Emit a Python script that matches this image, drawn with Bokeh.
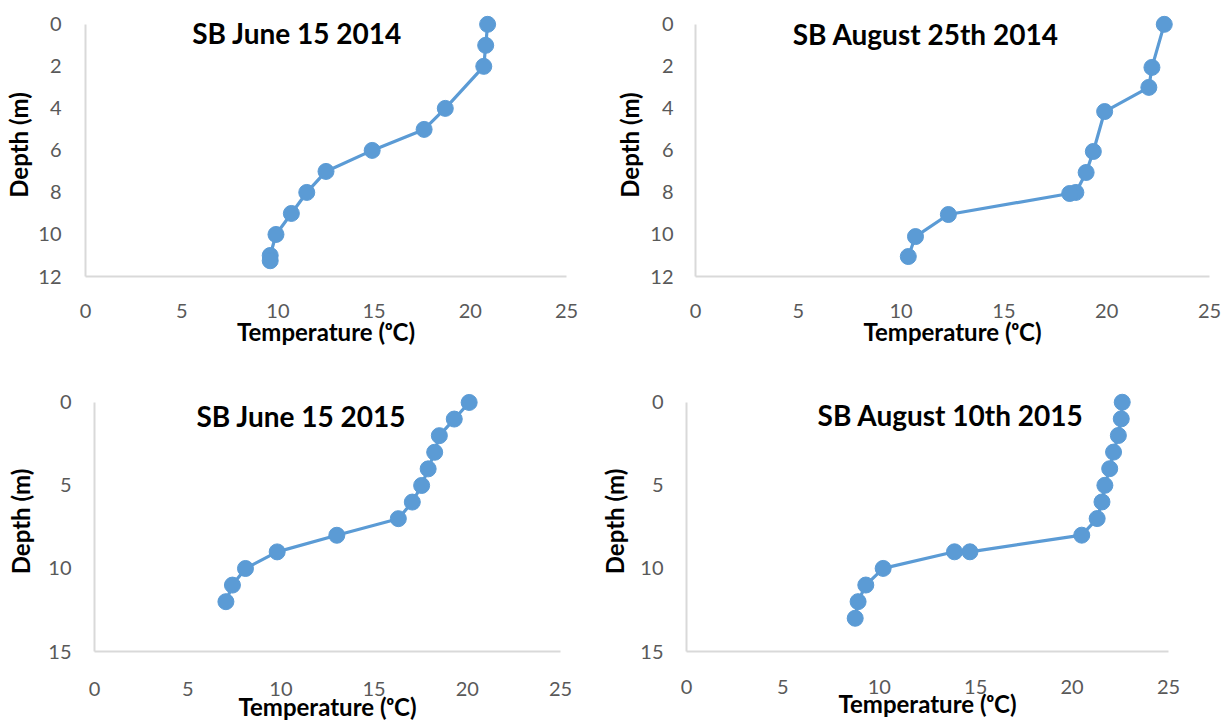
from bokeh.plotting import figure
from bokeh.layouts import column, row
from bokeh.models import Range1d, FixedTicker, Label
from bokeh.embed import file_html
from bokeh.resources import INLINE

# Temperature profiles (°C) against depth (m) at SB
june14_temp = [20.9, 20.8, 20.7, 18.7, 17.6, 14.9, 12.5, 11.5, 10.7, 9.9, 9.6, 9.6]
june14_depth = [0, 1, 2, 4, 5, 6, 7, 8, 9, 10, 11, 11.25]

aug14_temp = [22.8, 22.2, 22.05, 19.9, 19.35, 19.0, 18.5, 18.2, 12.3, 10.7, 10.35]
aug14_depth = [0, 2.05, 3.0, 4.15, 6.05, 7.05, 8.0, 8.05, 9.05, 10.1, 11.05]

june15_temp = [20.1, 19.3, 18.5, 18.25, 17.9, 17.55, 17.05, 16.3, 13.0, 9.8, 8.1, 7.4, 7.05]
june15_depth = [0, 1, 2, 3, 4, 5, 6, 7, 8, 9, 10, 11, 12]

aug15_temp = [22.6, 22.55, 22.4, 22.15, 21.95, 21.7, 21.55, 21.3, 20.5, 14.7, 13.9, 10.2, 9.3, 8.9, 8.75]
aug15_depth = [0, 1, 2, 3, 4, 5, 6, 7, 8, 9, 9, 10, 11, 12, 13]

temp_ticks = [0, 5, 10, 15, 20, 25]
depth_ticks_12 = [0, 2, 4, 6, 8, 10, 12]
depth_ticks_15 = [0, 5, 10, 15]

FONT = "Lato"
BLUE = "#5B9BD5"
AXIS_GREY = "#D9D9D9"
LABEL_GREY = "#595959"
TOP_PAD = 11  # px of room above depth 0 so the surface markers are not clipped


def panel(title, temps, depths, depth_max, depth_ticks, width, height,
          frame, title_pos, y_std, y_label_std, x_std, x_label_std):
    # frame: (left, right, top, bottom) pixel edges of the plotting area
    fl, fr, ft, fb = frame
    pad = TOP_PAD * depth_max / (fb - ft)
    p = figure(width=width, height=height, output_backend="svg",
               toolbar_location=None,
               x_range=Range1d(0, 25), y_range=Range1d(depth_max, -pad),
               min_border_left=fl, min_border_right=width - fr,
               min_border_top=ft - TOP_PAD, min_border_bottom=height - fb)
    p.outline_line_color = None
    p.grid.visible = False
    p.background_fill_color = "white"
    p.border_fill_color = "white"

    p.xaxis.ticker = FixedTicker(ticks=temp_ticks)
    p.yaxis.ticker = FixedTicker(ticks=depth_ticks)
    p.yaxis.bounds = (0, depth_max)
    p.xaxis.axis_label = "Temperature (ᵒC)"
    p.yaxis.axis_label = "Depth (m)"
    for ax in (p.xaxis, p.yaxis):
        ax.axis_line_color = AXIS_GREY
        ax.axis_line_width = 2
        ax.major_tick_line_color = None
        ax.minor_tick_line_color = None
        ax.major_tick_out = 0
        ax.major_tick_in = 0
        ax.minor_tick_out = 0
        ax.minor_tick_in = 0
        ax.major_label_text_font = FONT
        ax.major_label_text_font_size = "20px"
        ax.major_label_text_color = LABEL_GREY
        ax.axis_label_text_font = FONT
        ax.axis_label_text_font_style = "bold"
        ax.axis_label_text_font_size = "24px"
        ax.axis_label_text_color = "black"
    p.yaxis.major_label_standoff = y_std
    p.yaxis.axis_label_standoff = y_label_std
    p.xaxis.major_label_standoff = x_std
    p.xaxis.axis_label_standoff = x_label_std

    p.line(temps, depths, line_color=BLUE, line_width=3.2)
    p.scatter(temps, depths, size=16, fill_color=BLUE, line_color=BLUE)

    p.add_layout(Label(x=title_pos[0], y=title_pos[1], text=title,
                       text_font=FONT, text_font_style="bold",
                       text_font_size="28px", text_color="black",
                       text_align="center", text_baseline="middle"))
    return p


p1 = panel("SB June 15 2014", june14_temp, june14_depth, 12, depth_ticks_12,
           590, 361, (85, 566, 20, 276), (11.0, 0.42), 24, 2, 27, -4)
p2 = panel("SB August 25th 2014", aug14_temp, aug14_depth, 12, depth_ticks_12,
           637, 361, (105, 619, 24, 280), (11.2, 0.48), 22, 3, 27, -4)
p3 = panel("SB June 15 2015", june15_temp, june15_depth, 15, depth_ticks_15,
           580, 362, (94, 560, 41, 291), (11.1, 0.8), 23, 10, 30, -7)
p4 = panel("SB August 10th 2015", aug15_temp, aug15_depth, 15, depth_ticks_15,
           647, 362, (106, 588, 39, 294), (13.7, 0.78), 23, 8, 28, -8)

layout = column(row(p1, p2, spacing=0), row(p3, p4, spacing=0), spacing=0)

with open("out.html", "w") as f:
    f.write(file_html(layout, INLINE))
